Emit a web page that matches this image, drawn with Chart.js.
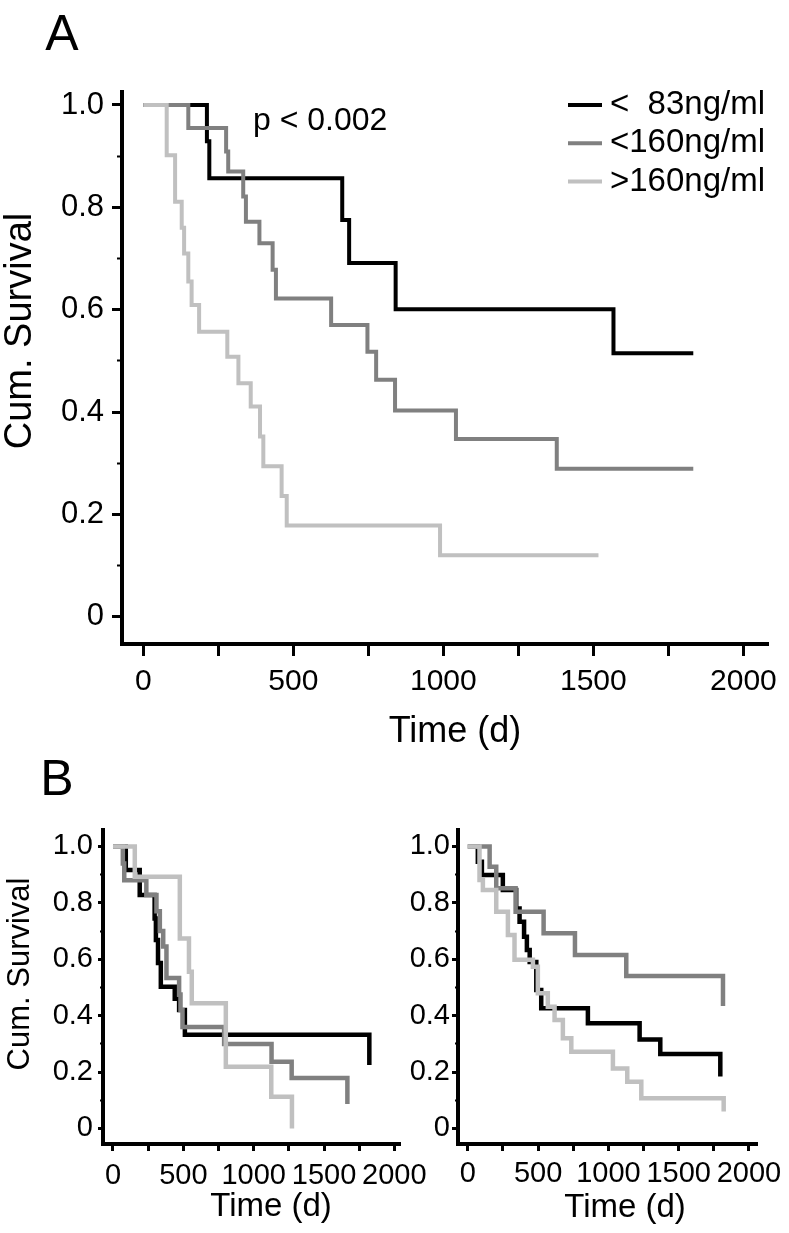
<!DOCTYPE html>
<html>
<head>
<meta charset="utf-8">
<script src="https://cdn.jsdelivr.net/npm/chart.js@4.4.1/dist/chart.umd.min.js"></script>
<style>
  html, body { margin: 0; padding: 0; background: #fff; }
  body { width: 789px; height: 1233px; position: relative; overflow: hidden; }
  canvas { position: absolute; left: 0; }
</style>
</head>
<body>
<canvas id="panelA" width="789" height="760" style="top:0px"></canvas>
<canvas id="panelBL" width="789" height="483" style="top:750px"></canvas>
<canvas id="panelBR" width="789" height="483" style="top:750px"></canvas>
<script>
// groups (legend order)
const groupLabels = ['<  83ng/ml', '<160ng/ml', '>160ng/ml'];
const groupColors = ['#000000', '#808080', '#c0c0c0'];

// Panel A - Kaplan-Meier steps (days, cumulative survival)
const aLowDays  = [0, 212, 220, 663, 686, 841, 1567, 1833];
const aLowSurv  = [1, 0.929, 0.857, 0.775, 0.691, 0.601, 0.515, 0.515];
const aMidDays  = [0, 150, 276, 283, 333, 342, 387, 431, 442, 626, 747, 776, 839, 1042, 1378, 1833];
const aMidSurv  = [1, 0.955, 0.909, 0.870, 0.821, 0.772, 0.730, 0.678, 0.622, 0.570, 0.518, 0.463, 0.403, 0.347, 0.289, 0.289];
const aHighDays = [0, 78, 106, 128, 136, 150, 161, 186, 280, 317, 358, 389, 400, 461, 478, 989, 1517];
const aHighSurv = [1, 0.902, 0.811, 0.760, 0.710, 0.655, 0.609, 0.557, 0.508, 0.456, 0.411, 0.352, 0.294, 0.236, 0.178, 0.120, 0.120];

// Panel B left
const blLowDays  = [0, 91, 190, 296, 305, 320, 340, 439, 470, 511, 1822];
const blLowSurv  = [1, 0.917, 0.828, 0.745, 0.668, 0.587, 0.503, 0.46, 0.42, 0.332, 0.225];
const blMidDays  = [0, 70, 80, 237, 309, 333, 357, 380, 470, 480, 494, 790, 1127, 1270, 1666];
const blMidSurv  = [1, 0.94, 0.88, 0.828, 0.77, 0.70, 0.645, 0.534, 0.475, 0.42, 0.36, 0.30, 0.237, 0.179, 0.087];
const blHighDays = [0, 155, 475, 540, 560, 802, 1125, 1272];
const blHighSurv = [1, 0.893, 0.674, 0.556, 0.444, 0.219, 0.113, 0];

// Panel B right
const brLowDays  = [0, 71, 100, 249, 344, 368, 400, 420, 440, 487, 522, 854, 1222, 1369, 1796];
const brLowSurv  = [1, 0.946, 0.899, 0.846, 0.78, 0.733, 0.68, 0.633, 0.59, 0.491, 0.426, 0.373, 0.316, 0.264, 0.184];
const brMidDays  = [0, 155, 202, 340, 539, 762, 1127, 1815];
const brMidSurv  = [1, 0.928, 0.852, 0.769, 0.692, 0.615, 0.541, 0.434];
const brHighDays = [0, 83, 107, 202, 285, 332, 463, 498, 569, 617, 676, 736, 1032, 1134, 1234, 1820];
const brHighSurv = [1, 0.881, 0.846, 0.769, 0.686, 0.598, 0.574, 0.48, 0.432, 0.385, 0.32, 0.272, 0.213, 0.166, 0.107, 0.06];

const FONT = '"Liberation Sans", Arial, Helvetica, sans-serif';

function kmDataset(i, days, surv, width) {
    return {
        label: groupLabels[i],
        data: days.map((d, k) => ({ x: d, y: surv[k] })),
        borderColor: groupColors[i],
        borderWidth: width,
        stepped: 'before',
        pointRadius: 0,
        fill: false,
        borderJoinStyle: 'miter',
        borderCapStyle: 'butt',
        yAxisID: 'y',
        // darker curves underneath, light one on top
        order: 3 - i
    };
}

// texts + legend drawn on top of each panel
function textLayer(items, legend) {
    return {
        id: 'textLayer',
        afterDraw(chart) {
            const ctx = chart.ctx;
            ctx.save();
            ctx.fillStyle = '#000';
            ctx.textBaseline = 'middle';
            items.forEach(t => {
                ctx.save();
                ctx.font = t.size + 'px ' + FONT;
                ctx.textAlign = t.align || 'center';
                ctx.translate(t.x, t.y);
                if (t.rot) ctx.rotate(t.rot);
                ctx.fillText(t.text, 0, 0);
                ctx.restore();
            });
            if (legend) {
                chart.data.datasets.forEach((ds, i) => {
                    const y = legend.y + i * legend.gap;
                    ctx.strokeStyle = ds.borderColor;
                    ctx.lineWidth = 4;
                    ctx.beginPath();
                    ctx.moveTo(legend.x, y);
                    ctx.lineTo(legend.x + legend.len, y);
                    ctx.stroke();
                    ctx.font = legend.size + 'px ' + FONT;
                    ctx.textAlign = 'left';
                    ctx.fillText(ds.label, legend.x + legend.len + 8, y);
                });
            }
            ctx.restore();
        }
    };
}

function kmScales(o) {
    const yLabel = v => Math.abs(v) < 1e-9 ? '0' : v.toFixed(1);
    return {
        x: {
            type: 'linear', min: o.xMin, max: o.xMax,
            afterFit: s => { s.height = o.xHeight; },
            border: { display: true, color: '#000', width: o.axisW },
            grid: { display: true, drawOnChartArea: false, drawTicks: true, tickLength: o.xTick, tickWidth: 3, tickColor: '#000' },
            ticks: {
                stepSize: 250, autoSkip: false, maxRotation: 0, includeBounds: false,
                padding: o.xPad, color: '#000', font: { family: FONT, size: o.xFont },
                callback: v => (v % 500 === 0 ? String(v) : '')
            }
        },
        y: {
            type: 'linear', position: 'left', weight: 1, min: o.yMin, max: o.yMax,
            afterFit: s => { s.width = o.yWidth; },
            border: { display: true, color: '#000', width: o.axisW },
            grid: { display: true, drawOnChartArea: false, drawTicks: true, tickLength: o.yTick, tickWidth: 3, tickColor: '#000' },
            ticks: {
                stepSize: 0.2, includeBounds: false, padding: o.yPad, color: '#000',
                font: { family: FONT, size: o.yFont }, callback: yLabel
            }
        },
        yMinor: {
            type: 'linear', axis: 'y', position: 'left', weight: 0, min: o.yMin, max: o.yMax,
            afterFit: s => { s.width = 0; },
            border: { display: false },
            grid: { display: true, drawOnChartArea: false, drawTicks: true, tickLength: o.yMinorTick, tickWidth: 2, tickColor: '#000' },
            ticks: { display: false, stepSize: 0.1, includeBounds: false }
        }
    };
}

function kmChart(id, datasets, scales, padding, layer) {
    return new Chart(document.getElementById(id), {
        type: 'line',
        data: { datasets },
        options: {
            responsive: false,
            animation: false,
            devicePixelRatio: 1,
            layout: { padding },
            scales,
            plugins: { legend: { display: false }, tooltip: { enabled: false } }
        },
        plugins: [layer]
    });
}

// ---- Panel A ----
kmChart('panelA', [
    kmDataset(0, aLowDays, aLowSurv, 4),
    kmDataset(1, aMidDays, aMidSurv, 4),
    kmDataset(2, aHighDays, aHighSurv, 4)
], kmScales({
    xMin: -71, xMax: 2082, yMin: -0.0534, yMax: 1.0254,
    xHeight: 60, yWidth: 122, axisW: 4,
    xTick: 12, yTick: 10, yMinorTick: 5,
    xPad: 8, yPad: 8, xFont: 30, yFont: 31
}), { top: 92, right: 21, bottom: 56, left: 0 },
textLayer([
    { text: 'A', x: 62, y: 36, size: 50 },
    { text: 'p < 0.002', x: 253, y: 121, size: 32, align: 'left' },
    { text: 'Cum. Survival', x: 21, y: 331, size: 38, rot: -Math.PI / 2 },
    { text: 'Time (d)', x: 455, y: 732, size: 36 }
], { x: 568, y: 105, gap: 38.3, len: 34, size: 33 }));

// ---- Panel B left ----
kmChart('panelBL', [
    kmDataset(0, blLowDays, blLowSurv, 4.5),
    kmDataset(1, blMidDays, blMidSurv, 4.5),
    kmDataset(2, blHighDays, blHighSurv, 4.5)
], kmScales({
    xMin: -71, xMax: 2040, yMin: -0.055, yMax: 1.0585,
    xHeight: 50, yWidth: 103, axisW: 4,
    xTick: 7, yTick: 5, yMinorTick: 3,
    xPad: 8, yPad: 5, xFont: 29, yFont: 29
}), { top: 80, right: 389, bottom: 39, left: 0 },
textLayer([
    { text: 'B', x: 57, y: 31, size: 50 },
    { text: 'Cum. Survival', x: 20, y: 224, size: 31, rot: -Math.PI / 2 },
    { text: 'Time (d)', x: 271, y: 457, size: 33 }
]));

// ---- Panel B right ----
kmChart('panelBR', [
    kmDataset(0, brLowDays, brLowSurv, 4.5),
    kmDataset(1, brMidDays, brMidSurv, 4.5),
    kmDataset(2, brHighDays, brHighSurv, 4.5)
], kmScales({
    xMin: -70, xMax: 2057, yMin: -0.055, yMax: 1.0585,
    xHeight: 50, yWidth: 60, axisW: 4,
    xTick: 7, yTick: 6, yMinorTick: 3,
    xPad: 6, yPad: 2, xFont: 29, yFont: 29
}), { top: 80, right: 32, bottom: 39, left: 398 },
textLayer([
    { text: 'Time (d)', x: 625, y: 458, size: 33 }
]));
</script>
</body>
</html>
